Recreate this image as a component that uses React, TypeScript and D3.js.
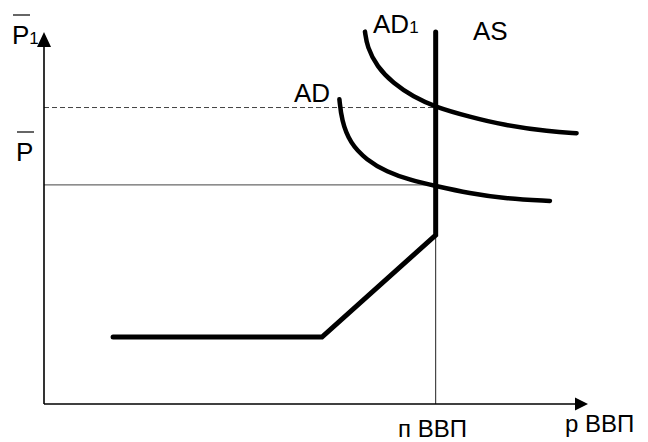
import React from "react";
import * as d3 from "d3";

// abstract units: x 0..100 (output), y 0..100 (price)
const xNatural = 72;
const priceP = 58.9;
const priceP1 = 79.7;

const asX = [12.7, 51.1, 72, 72];
const asY = [18, 18, 45.4, 100];

const adX = [54.3, 54.7, 56.25, 59.3, 63.0, 67.3, 72.0, 78.3, 84.4, 93.0];
const adY = [81.9, 76.3, 70.1, 65.6, 62.4, 60.2, 58.6, 56.6, 55.3, 54.6];

const ad1X = [59.0, 59.4, 61.2, 64.2, 67.9, 72.0, 78.3, 84.4, 93.0, 97.9];
const ad1Y = [100.1, 96.0, 90.7, 86.2, 82.6, 79.8, 77.2, 75.0, 73.2, 72.8];

const labels = {
  p1: "P",
  p1Sub: "1",
  p: "P",
  ad: "AD",
  ad1: "AD",
  ad1Sub: "1",
  as: "AS",
  natural: "п ВВП",
  real: "р ВВП",
};

const W = 648;
const H = 442;

export default function App() {
  const x = d3.scaleLinear().domain([0, 100]).range([44, 588]);
  const y = d3.scaleLinear().domain([0, 100]).range([404, 32]);

  const line = d3
    .line<[number, number]>()
    .x((d) => x(d[0]))
    .y((d) => y(d[1]));
  const curve = d3
    .line<[number, number]>()
    .x((d) => x(d[0]))
    .y((d) => y(d[1]))
    .curve(d3.curveBasis);

  const asPts = asX.map((v, i) => [v, asY[i]] as [number, number]);
  const adPts = adX.map((v, i) => [v, adY[i]] as [number, number]);
  const ad1Pts = ad1X.map((v, i) => [v, ad1Y[i]] as [number, number]);

  const x0 = x(0);
  const y0 = y(0);
  const yTop = y(100);
  const xEnd = x(100);
  const font = "Liberation Sans, Arial, sans-serif";

  return (
    <svg
      width={W}
      height={H}
      style={{ position: "absolute", left: 0, top: 0, background: "#fff" }}
      fontFamily={font}
    >
      {/* guide lines */}
      <line x1={x0} x2={x(xNatural)} y1={y(priceP)} y2={y(priceP)} stroke="#444" strokeWidth={1} />
      <line
        x1={x0}
        x2={x(xNatural)}
        y1={y(priceP1)}
        y2={y(priceP1)}
        stroke="#444"
        strokeWidth={1}
        strokeDasharray="5,3"
      />
      <line x1={x(xNatural)} x2={x(xNatural)} y1={y0} y2={y(asY[2])} stroke="#222" strokeWidth={1} />

      {/* axes */}
      <line x1={x0} x2={x0} y1={y0} y2={yTop + 12} stroke="#000" strokeWidth={1.6} />
      <path d={`M${x0},${yTop} L${x0 - 7},${yTop + 15} L${x0 + 7},${yTop + 15} Z`} fill="#000" />
      <line x1={x0} x2={xEnd - 10} y1={y0} y2={y0} stroke="#000" strokeWidth={1.6} />
      <path d={`M${xEnd},${y0} L${xEnd - 13},${y0 - 6.5} L${xEnd - 13},${y0 + 6.5} Z`} fill="#000" />

      {/* curves */}
      <path d={line(asPts) || ""} fill="none" stroke="#000" strokeWidth={5} strokeLinecap="round" strokeLinejoin="miter" />
      <path d={curve(adPts) || ""} fill="none" stroke="#000" strokeWidth={4.5} strokeLinecap="round" />
      <path d={curve(ad1Pts) || ""} fill="none" stroke="#000" strokeWidth={4.5} strokeLinecap="round" />

      {/* labels */}
      <text x={12} y={44} fontSize={26}>
        {labels.p1}
        <tspan fontSize={17}>{labels.p1Sub}</tspan>
      </text>
      <line x1={13} x2={30} y1={15} y2={15} stroke="#000" strokeWidth={1.2} />
      <text x={16} y={161} fontSize={26}>
        {labels.p}
      </text>
      <line x1={17} x2={34} y1={132} y2={132} stroke="#000" strokeWidth={1.2} />

      <text x={294} y={102} fontSize={26}>
        {labels.ad}
      </text>
      <text x={373} y={33} fontSize={26}>
        {labels.ad1}
        <tspan fontSize={17}>{labels.ad1Sub}</tspan>
      </text>
      <text x={473} y={40} fontSize={26}>
        {labels.as}
      </text>
      <text x={398} y={437} fontSize={24}>
        {labels.natural}
      </text>
      <text x={565} y={432} fontSize={24}>
        {labels.real}
      </text>
    </svg>
  );
}
